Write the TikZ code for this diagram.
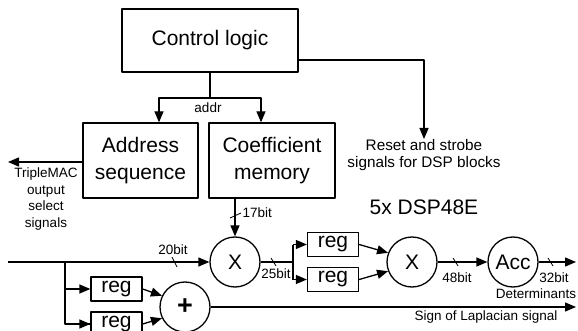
\documentclass[tikz,border=0pt]{standalone}
\usepackage{fontspec}
\setmainfont{Liberation Sans}
\usetikzlibrary{arrows.meta,calc}

\begin{document}
\begin{tikzpicture}[x=1pt, y=-1pt, >={Triangle[length=11pt,width=9pt]}, line width=1.3pt, line join=round,
  blk/.style={draw, rectangle, inner sep=0pt, align=center, font=\fontsize{21}{27}\selectfont},
  regbox/.style={draw, rectangle, inner sep=0pt, minimum width=51pt, minimum height=24pt, font=\fontsize{21}{25}\selectfont},
  op/.style={draw, circle, inner sep=0pt, minimum size=50pt, font=\fontsize{21}{25}\selectfont},
  lbl/.style={inner sep=0pt, align=center, font=\fontsize{13.5}{16.7}\selectfont},
  bus/.style={line width=0.8pt}]
  \useasboundingbox (0,0) rectangle (578,331);
  % blocks
  \node[blk, minimum width=176pt, minimum height=63pt] (ctrl) at (210,40.5) {Control logic};
  \node[blk, minimum width=115pt, minimum height=75pt] (addrseq) at (140.5,160.5) {Address\\sequence};
  \node[blk, minimum width=126pt, minimum height=75pt] (coef) at (272,160.5) {Coefficient\\memory};
  \node[op] (mulA) at (235,262) {X};
  \node[op, font=\fontsize{27}{30}\bfseries] (add) at (185,307) {+};
  \node[regbox] (regA) at (116.5,289) {reg};
  \node[regbox] (regB) at (116.5,324) {reg};
  \node[regbox] (regC) at (333,244.5) {reg};
  \node[regbox] (regD) at (333,279.5) {reg};
  \node[op] (mulB) at (412,262) {X};
  \node[op] (acc) at (513,262) {Acc};
  % free ends
  \coordinate (split) at (210,98);
  \coordinate (tmacout) at (8,162);
  \coordinate (datain) at (8,262);
  \coordinate (fork) at (65,262);
  \coordinate (forkB) at (293,262);
  \coordinate (detout) at (576,262);
  \coordinate (signout) at (576,307);
  % texts
  \node[lbl] (addrlbl) at (208,108) {addr};
  \node[lbl, anchor=north, font=\fontsize{15.3}{16.5}\selectfont] (rst) at (424,139) {Reset and strobe\\signals for DSP blocks};
  \node[lbl, anchor=north] (tmac) at (46,167) {TripleMAC\\output\\select\\signals};
  \node[font=\fontsize{21}{25}\selectfont] (dsp) at (424,207) {5x DSP48E};
  \node[lbl, anchor=west] (w17) at (242,213) {17bit};
  \node[lbl] (w20) at (173,250) {20bit};
  \node[lbl] (w25) at (276,274) {25bit};
  \node[lbl] (w48) at (457,278) {48bit};
  \node[lbl] (w32) at (554,278) {32bit};
  \node[lbl] (det) at (536,294) {Determinants};
  \node[lbl] (sign) at (486,317) {Sign of Laplacian signal};
  % control
  \draw (ctrl.south) -- (split);
  \draw[->] (split) -| ([xshift=18.5pt]addrseq.north);
  \draw[->] (split) -| ([xshift=-11pt]coef.north);
  \draw[->] ([yshift=-19.5pt]ctrl.east) -| (rst.north);
  \draw[->] ([yshift=-1.5pt]addrseq.west) -- (tmacout);
  % datapath
  \draw[->] ([xshift=-37pt]coef.south) -- (mulA.north);
  \draw[->] (datain) -- (mulA.west);
  \draw (fork) |- (regB.west);
  \draw[->] (fork |- regA.west) -- (regA.west);
  \draw[->] (fork |- regB.west) -- (regB.west);
  \draw[->] (regA.east) -- (add.154);
  \draw[->] (regB.east) -- (add.206);
  \draw[->] (add.east) -- (signout);
  \draw (mulA.east) -- (forkB);
  \draw (regC.west -| forkB) -- (regD.west -| forkB);
  \draw[->] (regC.west -| forkB) -- (regC.west);
  \draw[->] (regD.west -| forkB) -- (regD.west);
  \draw[->] (regC.east) -- (mulB.159);
  \draw[->] (regD.east) -- (mulB.201);
  \draw[->] (mulB.east) -- (acc.west);
  \draw[->] (acc.east) -- (detout);
  % bus width marks
  \draw[bus] (230,218) -- (241,213);
  \draw[bus] (172,257) -- (177,267);
  \draw[bus] (271,258) -- (276,266);
  \draw[bus] (453,258) -- (458,266);
  \draw[bus] (548,258) -- (553,266);
\end{tikzpicture}
\end{document}
